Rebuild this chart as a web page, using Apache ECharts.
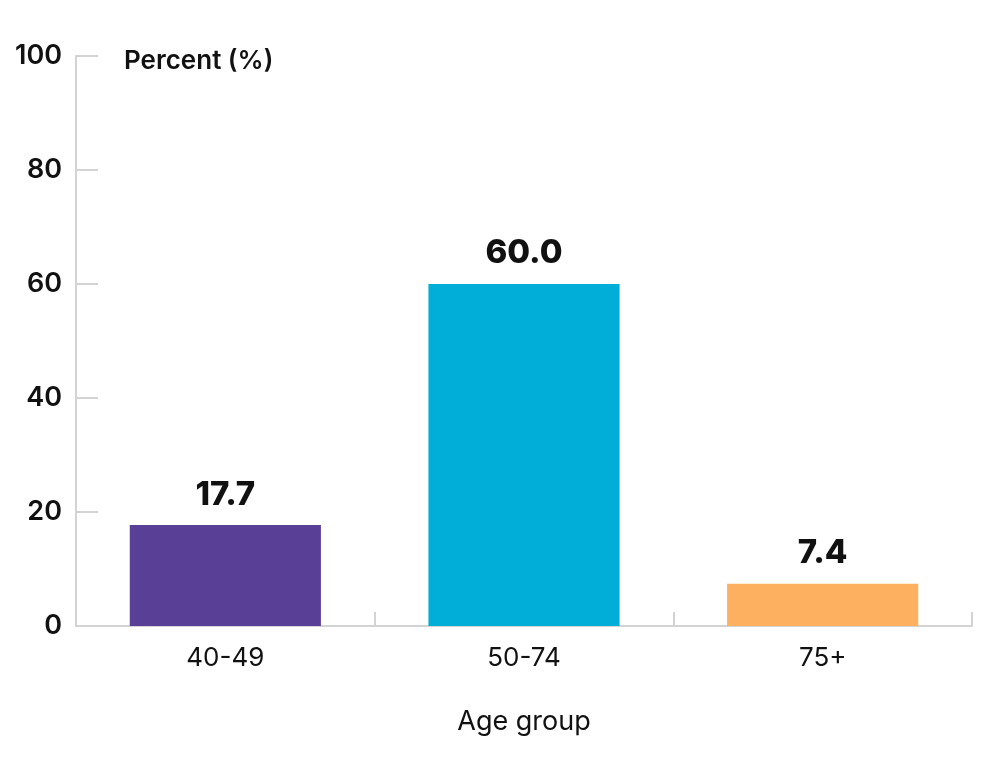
<!DOCTYPE html>
<html><head><meta charset="utf-8">
<script src="https://cdn.jsdelivr.net/npm/echarts@6/dist/echarts.min.js"></script>
<style>html,body{margin:0;padding:0;background:#fff}#c{width:1000px;height:760px}</style>
</head><body><div id="c"></div>
<script>
const categories = ['40-49', '50-74', '75+'];
const values = [17.7, 60.0, 7.4];
const colors = ['#5a3f97', '#00aed8', '#fdb05f'];
const yTicks = [0, 20, 40, 60, 80, 100];
const FONT = 'Inter, "Noto Sans", sans-serif';
const chart = echarts.init(document.getElementById('c'));
chart.setOption({
  animation: false,
  textStyle: { fontFamily: FONT },
  grid: { left: 76, right: 28, top: 56, bottom: 134 },
  title: {
    text: 'Percent (%)', left: 119, top: 43,
    textStyle: { fontFamily: FONT, fontSize: 26, fontWeight: 600, color: '#111' }
  },
  xAxis: {
    type: 'category', data: categories,
    name: 'Age group', nameLocation: 'middle', nameGap: 82,
    nameTextStyle: { fontFamily: FONT, fontSize: 27, color: '#111' },
    axisLine: { lineStyle: { color: '#d3d3d3', width: 2 } },
    axisTick: { show: true, inside: true, length: 14, alignWithLabel: false, lineStyle: { color: '#d3d3d3', width: 2 } },
    axisLabel: { fontFamily: FONT, fontSize: 26, color: '#111', margin: 19 }
  },
  yAxis: {
    type: 'value', min: 0, max: 100, interval: 20,
    axisLine: { show: true, lineStyle: { color: '#d3d3d3', width: 2 } },
    axisTick: { show: true, inside: true, length: 22, lineStyle: { color: '#d3d3d3', width: 2 } },
    splitLine: { show: false },
    axisLabel: { fontFamily: FONT, fontSize: 27, fontWeight: 600, color: '#111', margin: 14,
      formatter: v => yTicks.includes(v) ? String(v) : '' }
  },
  series: [{
    type: 'bar', barCategoryGap: '36%',
    data: values.map((v, i) => ({ value: v, itemStyle: { color: colors[i] } })),
    label: { show: true, position: 'top', distance: 14, fontFamily: FONT, fontSize: 33, fontWeight: 800, color: '#111',
      formatter: p => p.value.toFixed(1) }
  }]
});
</script></body></html>
